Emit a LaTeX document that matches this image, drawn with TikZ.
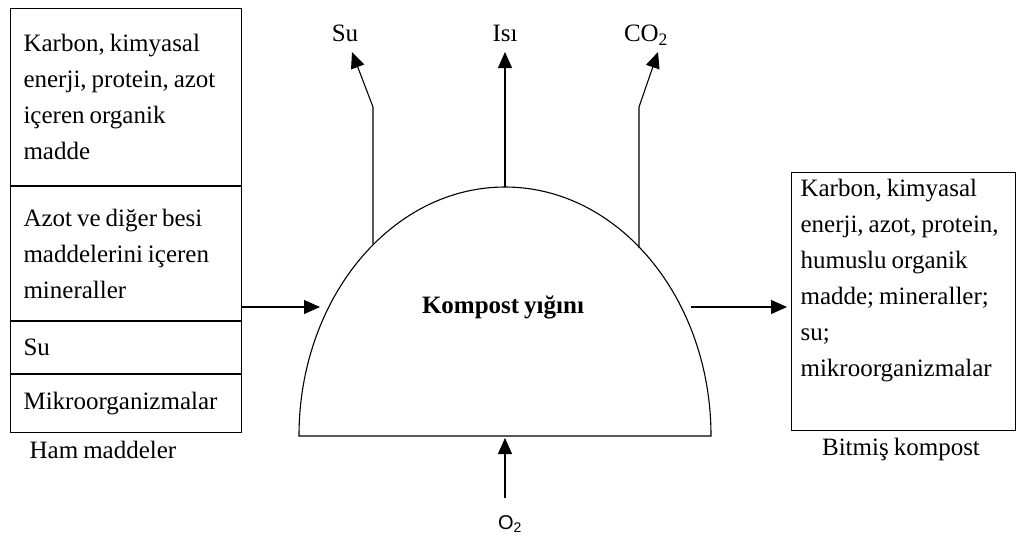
\documentclass[tikz,border=0pt]{standalone}
\usepackage{fontspec}
\setmainfont{Liberation Serif}[WordSpace=0.8]
\setsansfont{Liberation Sans}
\usetikzlibrary{positioning,arrows.meta}
\begin{document}
\begin{tikzpicture}[
  x=1pt, y=-1pt,
  cell/.style={rectangle, draw, minimum width=231pt, text width=205pt, inner xsep=13pt, align=flush left, font=\fontsize{25}{36}\selectfont},
  lbl/.style={font=\fontsize{25}{28}\selectfont, inner sep=1pt},
  flow/.style={-{Triangle[length=16pt,width=14pt]}},
  line width=1.1pt
]
  \useasboundingbox (0,0) rectangle (1018,542);

  % raw materials
  \node[cell, anchor=north west, minimum height=177pt] (raw1) at (10,8) {Karbon, kimyasal\\enerji, protein, azot\\içeren organik\\madde};
  \node[cell, below=0pt of raw1, minimum height=134pt] (raw2) {Azot ve diğer besi\\maddelerini içeren\\mineraller};
  \node[cell, below=0pt of raw2, minimum height=52pt] (raw3) {Su};
  \node[cell, below=0pt of raw3, minimum height=58pt] (raw4) {Mikroorganizmalar};
  \draw[line width=2.2pt] (raw1.south west) -- (raw1.south east);
  \node[lbl] (rawName) at (103,450) {Ham maddeler};

  % heap
  \draw (299,436) arc[start angle=180, end angle=360, x radius=206, y radius=249] -- cycle;
  \node[lbl, font=\bfseries\fontsize{25}{28}\selectfont] (heap) at (503,307) {Kompost yığını};

  % finished compost
  \node[cell, anchor=north west, minimum width=224pt, text width=206pt, inner xsep=9pt, minimum height=258pt] (done) at (791,172) {Karbon, kimyasal\\enerji, azot, protein,\\humuslu organik\\madde; mineraller;\\su;\\mikroorganizmalar\\\strut};
  \node[lbl] (doneName) at (901,449) {Bitmiş kompost};

  % outputs
  \node[lbl] (suName) at (345,33) {Su};
  \node[lbl] (isiName) at (505,33) {Isı};
  \node[lbl] (coName) at (646,35) {CO\textsubscript{2}};
  \node[font=\sffamily\fontsize{20}{24}\selectfont, inner sep=1pt] (o2Name) at (510,524) {O\textsubscript{2}};

  \coordinate (suFoot) at (373,244);
  \coordinate (suBend) at (373,107);
  \coordinate (suTip) at (352,52);
  \coordinate (isiFoot) at (505,187);
  \coordinate (isiTip) at (505,52);
  \coordinate (coFoot) at (639,248);
  \coordinate (coBend) at (639,107);
  \coordinate (coTip) at (658,52);
  \coordinate (o2Foot) at (505,498);
  \coordinate (o2Tip) at (505,438);
  \coordinate (feedTip) at (320,307);
  \coordinate (exitFoot) at (691,307);

  \draw[flow] (suFoot) -- (suBend) -- (suTip);
  \draw[flow] (isiFoot) -- (isiTip);
  \draw[flow] (coFoot) -- (coBend) -- (coTip);
  \draw[flow] (o2Foot) -- (o2Tip);
  \draw[flow] (raw2.east |- feedTip) -- (feedTip);
  \draw[flow] (exitFoot) -- ([xshift=-4pt]done.west |- exitFoot);
\end{tikzpicture}
\end{document}
